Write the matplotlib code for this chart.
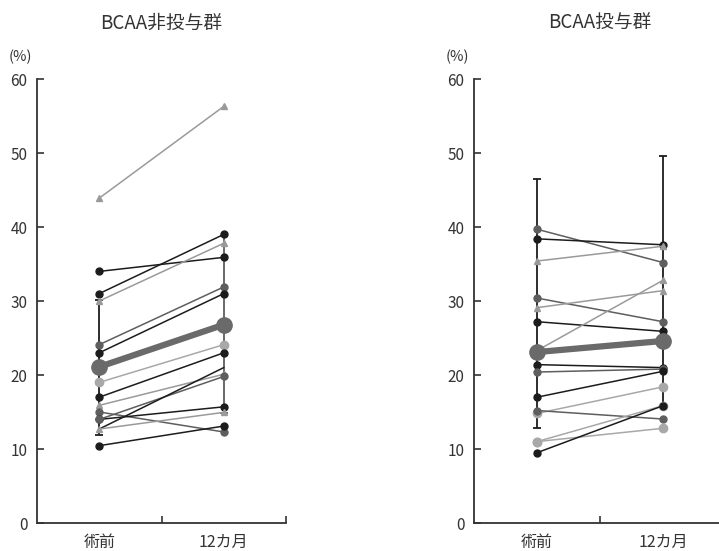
import numpy as np
import matplotlib
matplotlib.use("Agg")
import matplotlib.pyplot as plt

plt.rcParams['font.family'] = ['Noto Sans CJK JP', 'DejaVu Sans']

categories = ['術前', '12カ月']
titles = ['BCAA非投与群', 'BCAA投与群']

# BCAA非投与群: individual patients (pre, 12 months)
pre_nb = [43.9, 34.0, 31.0, 30.0, 24.1, 23.0, 19.0, 17.0, 15.9, 15.0, 14.0, 14.0, 12.7, 12.7, 10.45]
post_nb = [56.3, 35.9, 39.0, 37.8, 31.9, 31.0, 24.1, 23.0, 20.1, 12.3, 15.7, 19.8, 21.0, 14.95, 13.1]
kind_nb = ['tri', 'black', 'black', 'tri', 'dgray', 'black', 'lgray', 'black', 'tri',
           'dgray', 'black', 'dgray', 'plain', 'tri', 'black']
mean_nb = [21.1, 26.8]
err_lo_nb = [11.9, 14.9]
err_hi_nb = [30.2, 38.8]

# BCAA投与群
pre_b = [39.7, 38.4, 35.4, 30.4, 29.1, 27.2, 23.3, 21.4, 20.4, 17.0, 14.8, 15.2, 11.0, 11.0, 9.5]
post_b = [35.2, 37.6, 37.4, 27.2, 31.4, 25.9, 32.8, 21.0, 20.8, 20.5, 18.4, 14.05, 12.8, 15.85, 15.85]
kind_b = ['dgray', 'black', 'tri', 'dgray', 'tri', 'black', 'tri', 'black', 'dgray',
          'black', 'lgray', 'dgray', 'lgray', 'lgray', 'black']
mean_b = [23.1, 24.6]
err_lo_b = [12.9, 15.8]
err_hi_b = [46.5, 49.6]

styles = {
    'black': dict(color='#1c1c1c', marker='o', ms=5),
    'dgray': dict(color='#5e5e5e', marker='o', ms=5),
    'lgray': dict(color='#a8a8a8', marker='o', ms=6),
    'tri': dict(color='#9a9a9a', marker='^', ms=4),
    'plain': dict(color='#1c1c1c', marker='None', ms=0),
}

xs = np.array([0.5, 1.5])

fig = plt.figure(figsize=(7.19, 5.51), dpi=100)
ax1 = fig.add_axes([37 / 719, 28 / 551, 249 / 719, 444 / 551])
ax2 = fig.add_axes([474 / 719, 28 / 551, 252 / 719, 444 / 551])

panels = [
    (ax1, pre_nb, post_nb, kind_nb, mean_nb, err_lo_nb, err_hi_nb, ['#1c1c1c', '#5e5e5e']),
    (ax2, pre_b, post_b, kind_b, mean_b, err_lo_b, err_hi_b, ['#1c1c1c', '#1c1c1c']),
]

for i, (ax, pre, post, kind, mean, lo, hi, ecol) in enumerate(panels):
    for j in range(2):
        ax.errorbar(xs[j], mean[j], yerr=[[mean[j] - lo[j]], [hi[j] - mean[j]]],
                    fmt='none', ecolor=ecol[j], elinewidth=1.3, capsize=3, capthick=1.3, zorder=1)
    for a, b, k in zip(pre, post, kind):
        st = styles[k]
        ax.plot(xs, [a, b], color=st['color'], marker=st['marker'], ms=st['ms'],
                lw=1.1, zorder=2)
    ax.plot(xs, mean, color='#6a6a6a', marker='o', ms=11, lw=4.5, zorder=3)

    ax.set_xlim(0, 2)
    ax.set_ylim(0, 60)
    ax.set_yticks([0, 10, 20, 30, 40, 50, 60])
    ax.set_xticks([1, 2])
    ax.set_xticklabels([])
    for x, c in zip(xs, categories):
        ax.text(x, -2.6, c, ha='center', va='center', fontsize=11.5, color='#333333')
    ax.tick_params(axis='both', direction='in', length=5, width=1.2, colors='#333333',
                   labelsize=11, pad=7)
    for s in ['top', 'right']:
        ax.spines[s].set_visible(False)
    for s in ['left', 'bottom']:
        ax.spines[s].set_linewidth(1.3)
        ax.spines[s].set_color('#333333')
    ax.set_title(titles[i], fontsize=13.5, color='#333333', pad=36)
    ax.text(-0.13, 63.0, '(%)', ha='center', va='center', fontsize=10.5, color='#333333')

fig.savefig('out.png', dpi=100)
